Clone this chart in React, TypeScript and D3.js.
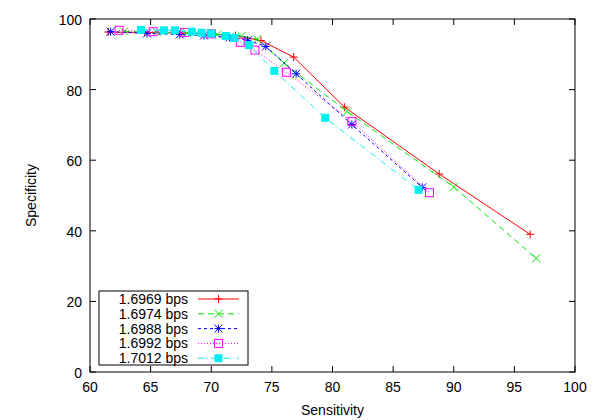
import React from "react";
import * as d3 from "d3";

const seriesNames = ["1.6969 bps", "1.6974 bps", "1.6988 bps", "1.6992 bps", "1.7012 bps"];

const s1x = [61.5, 64.5, 67.5, 70.0, 72.0, 74.1, 76.8, 81.0, 88.8, 96.3];
const s1y = [96.3, 96.2, 96.0, 95.8, 95.3, 93.9, 89.2, 75.0, 56.1, 39.0];

const s2x = [62.8, 65.5, 68.0, 70.5, 72.5, 73.8, 76.0, 81.2, 90.0, 96.8];
const s2y = [96.5, 96.3, 96.0, 95.6, 95.2, 94.3, 87.5, 73.8, 52.4, 32.2];

const s3x = [61.7, 64.7, 67.4, 69.4, 71.5, 73.0, 74.5, 77.0, 81.6, 87.4];
const s3y = [96.4, 95.9, 95.6, 95.3, 94.8, 94.0, 92.2, 84.5, 70.1, 52.3];

const s4x = [62.4, 65.2, 67.8, 70.0, 72.4, 73.6, 76.2, 81.6, 88.0];
const s4y = [96.8, 96.4, 96.2, 95.8, 93.4, 91.2, 84.9, 71.0, 50.8];

const s5x = [64.2, 66.1, 67.0, 68.4, 69.2, 70.0, 71.2, 71.9, 73.1, 75.2, 79.4, 87.1];
const s5y = [96.9, 96.8, 96.8, 96.4, 96.1, 95.9, 95.2, 94.6, 92.6, 85.3, 72.0, 51.6];

const xTicks = [60, 65, 70, 75, 80, 85, 90, 95, 100];
const yTicks = [0, 20, 40, 60, 80, 100];

const colors = ["#ff0000", "#00ee00", "#0000ff", "#ff00ff", "#00f0f0"];
const dashes = ["", "6,4", "3,3", "1,2", "6,3,1,3"];
const markers = ["plus", "cross", "star", "box", "fbox"];

const allX = [s1x, s2x, s3x, s4x, s5x];
const allY = [s1y, s2y, s3y, s4y, s5y];

const W = 600, H = 420;
const L = 90, R = 575, T = 19, B = 372;
const FONT = "'Liberation Sans', Arial, Helvetica, sans-serif";

function Marker({ type, x, y, color }: { type: string; x: number; y: number; color: string }) {
  const r = 4;
  if (type === "plus") {
    return <path d={`M${x - r},${y}H${x + r}M${x},${y - r}V${y + r}`} stroke={color} strokeWidth={1} fill="none" />;
  }
  if (type === "cross") {
    return <path d={`M${x - r},${y - r}L${x + r},${y + r}M${x - r},${y + r}L${x + r},${y - r}`} stroke={color} strokeWidth={1} fill="none" />;
  }
  if (type === "star") {
    return (
      <path
        d={`M${x - r},${y}H${x + r}M${x},${y - r}V${y + r}M${x - r},${y - r}L${x + r},${y + r}M${x - r},${y + r}L${x + r},${y - r}`}
        stroke={color}
        strokeWidth={1}
        fill="none"
      />
    );
  }
  if (type === "box") {
    return <rect x={x - r} y={y - r} width={2 * r} height={2 * r} stroke={color} strokeWidth={1} fill="none" />;
  }
  return <rect x={x - r} y={y - r} width={2 * r} height={2 * r} fill={color} stroke="none" />;
}

export default function App() {
  const xs = d3.scaleLinear().domain([60, 100]).range([L, R]);
  const ys = d3.scaleLinear().domain([0, 100]).range([B, T]);
  const line = d3
    .line<[number, number]>()
    .x((d) => xs(d[0]))
    .y((d) => ys(d[1]));

  const tick = 6;
  const legX0 = 99, legY0 = 291, legX1 = 248, legY1 = 365;
  const rowY = (i: number) => 299 + i * 14.8;

  return (
    <svg width={W} height={H} style={{ display: "block", position: "absolute", left: 0, top: 0 }} fontFamily={FONT}>
      <rect x={0} y={0} width={W} height={H} fill="#fff" />
      {xTicks.map((t) => (
        <g key={"xt" + t}>
          <line x1={xs(t)} x2={xs(t)} y1={B} y2={B - tick} stroke="#000" />
          <line x1={xs(t)} x2={xs(t)} y1={T} y2={T + tick} stroke="#000" />
          <text x={xs(t)} y={B + 20} textAnchor="middle" fontSize={14}>
            {t}
          </text>
        </g>
      ))}
      {yTicks.map((t) => (
        <g key={"yt" + t}>
          <line x1={L} x2={L + tick} y1={ys(t)} y2={ys(t)} stroke="#000" />
          <line x1={R} x2={R - tick} y1={ys(t)} y2={ys(t)} stroke="#000" />
          <text x={L - 8} y={ys(t) + 6} textAnchor="end" fontSize={14}>
            {t}
          </text>
        </g>
      ))}
      <text x={(L + R) / 2} y={415} textAnchor="middle" fontSize={14}>
        Sensitivity
      </text>
      <text transform={`translate(36,${(T + B) / 2}) rotate(-90)`} textAnchor="middle" fontSize={14}>
        Specificity
      </text>
      {allX.map((xv, i) => {
        const pts: [number, number][] = xv.map((x, j) => [x, allY[i][j]]);
        return (
          <g key={"s" + i}>
            <path d={line(pts) || ""} fill="none" stroke={colors[i]} strokeWidth={1} strokeDasharray={dashes[i]} />
            {pts.map((p, j) => (
              <Marker key={j} type={markers[i]} x={xs(p[0])} y={ys(p[1])} color={colors[i]} />
            ))}
          </g>
        );
      })}
      <rect x={legX0} y={legY0} width={legX1 - legX0} height={legY1 - legY0} fill="#fff" stroke="#000" strokeWidth={1} />
      {seriesNames.map((n, i) => (
        <g key={"lg" + i}>
          <text x={188} y={rowY(i) + 5} textAnchor="end" fontSize={14}>
            {n}
          </text>
          <line x1={198} x2={239} y1={rowY(i)} y2={rowY(i)} stroke={colors[i]} strokeDasharray={dashes[i]} />
          <Marker type={markers[i]} x={218.5} y={rowY(i)} color={colors[i]} />
        </g>
      ))}
      <rect x={L} y={T} width={R - L} height={B - T} fill="none" stroke="#000" strokeWidth={1} />
    </svg>
  );
}
